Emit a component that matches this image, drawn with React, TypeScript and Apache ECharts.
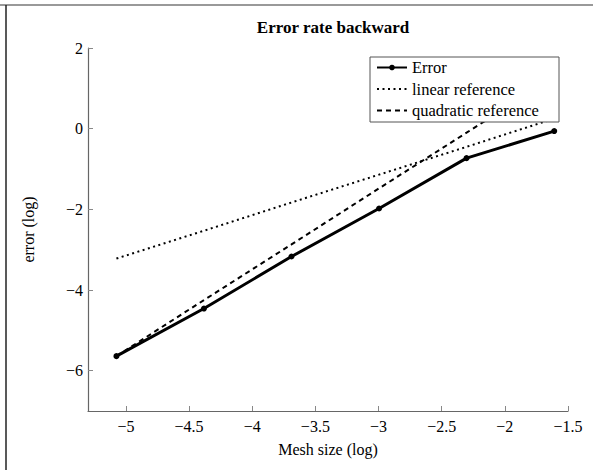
import React, { useEffect, useRef } from "react";
import * as echarts from "echarts";

const meshSizeLog = [-5.075, -4.382, -3.689, -2.996, -2.303, -1.609];
const errorLog = [-5.64, -4.46, -3.17, -1.98, -0.73, -0.06];
const linearRef = [-3.22, -2.53, -1.83, -1.14, -0.45, 0.25];
const quadraticRef = [-5.64, -4.25, -2.87, -1.48, -0.1, 1.29];
const xTicks = [-5, -4.5, -4, -3.5, -3, -2.5, -2, -1.5];
const yTicks = [-6, -4, -2, 0, 2];
const seriesNames = ["Error", "linear reference", "quadratic reference"];

const FONT = "'Liberation Serif', 'DejaVu Serif', serif";
const fmt = (v: number) => String(v).replace("-", "\u2212");
const pairs = (ys: number[]) => meshSizeLog.map((x, i) => [x, ys[i]]);

export default function App() {
  const ref = useRef<HTMLDivElement>(null);
  useEffect(() => {
    document.body.style.margin = "0";
    const chart = echarts.init(ref.current!, null, { renderer: "svg" });
    chart.setOption({
      animation: false,
      backgroundColor: "#fff",
      textStyle: { fontFamily: FONT, color: "#000" },
      title: {
        text: "Error rate backward",
        left: 328,
        textAlign: "center",
        top: 14,
        textStyle: { fontFamily: FONT, fontSize: 17, fontWeight: "bold", color: "#000" },
      },
      grid: { left: 88, top: 48, right: 25, bottom: 59, outerBoundsMode: "none" },
      legend: {
        orient: "vertical",
        left: 376,
        top: 59,
        padding: 0,
        itemGap: 4.5,
        itemWidth: 30,
        itemHeight: 7,
        textStyle: { fontFamily: FONT, fontSize: 16.5, lineHeight: 16, color: "#000" },
        data: [
          { name: seriesNames[0] },
          { name: seriesNames[1], itemStyle: { color: "rgba(0,0,0,0)", borderWidth: 0, opacity: 0 } },
          { name: seriesNames[2], itemStyle: { color: "rgba(0,0,0,0)", borderWidth: 0, opacity: 0 } },
        ],
      },
      xAxis: {
        type: "value",
        min: -5.3,
        max: -1.5,
        name: "Mesh size (log)",
        nameLocation: "middle",
        nameGap: 30,
        nameTextStyle: { fontFamily: FONT, fontSize: 16, color: "#000" },
        axisLine: { show: true, onZero: false, lineStyle: { color: "#666", width: 1.2 } },
        axisTick: { show: true, inside: true, length: 5, customValues: xTicks, lineStyle: { color: "#888" } },
        axisLabel: {
          customValues: xTicks,
          formatter: fmt,
          fontFamily: FONT,
          fontSize: 16,
          color: "#000",
          margin: 7,
        },
        splitLine: { show: false },
      },
      yAxis: {
        type: "value",
        min: -7,
        max: 2,
        name: "error (log)",
        nameLocation: "middle",
        nameGap: 52,
        nameRotate: 90,
        nameTextStyle: { fontFamily: FONT, fontSize: 16, color: "#000" },
        axisLine: { show: true, onZero: false, lineStyle: { color: "#666", width: 1.2 } },
        axisTick: { show: true, inside: true, length: 5, customValues: yTicks, lineStyle: { color: "#888" } },
        axisLabel: {
          customValues: yTicks,
          formatter: fmt,
          fontFamily: FONT,
          fontSize: 16,
          color: "#000",
          margin: 5,
        },
        splitLine: { show: false },
      },
      graphic: [
        { type: "line", z: 1, shape: { x1: 0, y1: 5, x2: 593, y2: 5 }, style: { stroke: "#777", lineWidth: 1.5 } },
        { type: "line", z: 1, shape: { x1: 6, y1: 5, x2: 6, y2: 470 }, style: { stroke: "#222", lineWidth: 1.5 } },
        {
          type: "rect",
          z: 3,
          shape: { x: 370, y: 57, width: 189, height: 65 },
          style: { fill: "#fff", stroke: "#555", lineWidth: 1 },
        },
      ],
      series: [
        {
          name: seriesNames[0],
          type: "line",
          data: pairs(errorLog),
          symbol: "circle",
          symbolSize: 6,
          z: 2,
          lineStyle: { color: "#000", width: 3 },
          itemStyle: { color: "#000" },
        },
        {
          name: seriesNames[1],
          type: "line",
          data: pairs(linearRef),
          symbol: "none",
          z: 1,
          lineStyle: { color: "#000", width: 2, type: [2, 3.5] },
          itemStyle: { color: "#000" },
        },
        {
          name: seriesNames[2],
          type: "line",
          data: pairs(quadraticRef),
          symbol: "none",
          z: 1,
          lineStyle: { color: "#000", width: 2, type: [5, 4] },
          itemStyle: { color: "#000" },
        },
      ],
    });
    return () => chart.dispose();
  }, []);
  return <div ref={ref} style={{ width: 593, height: 470 }} />;
}
